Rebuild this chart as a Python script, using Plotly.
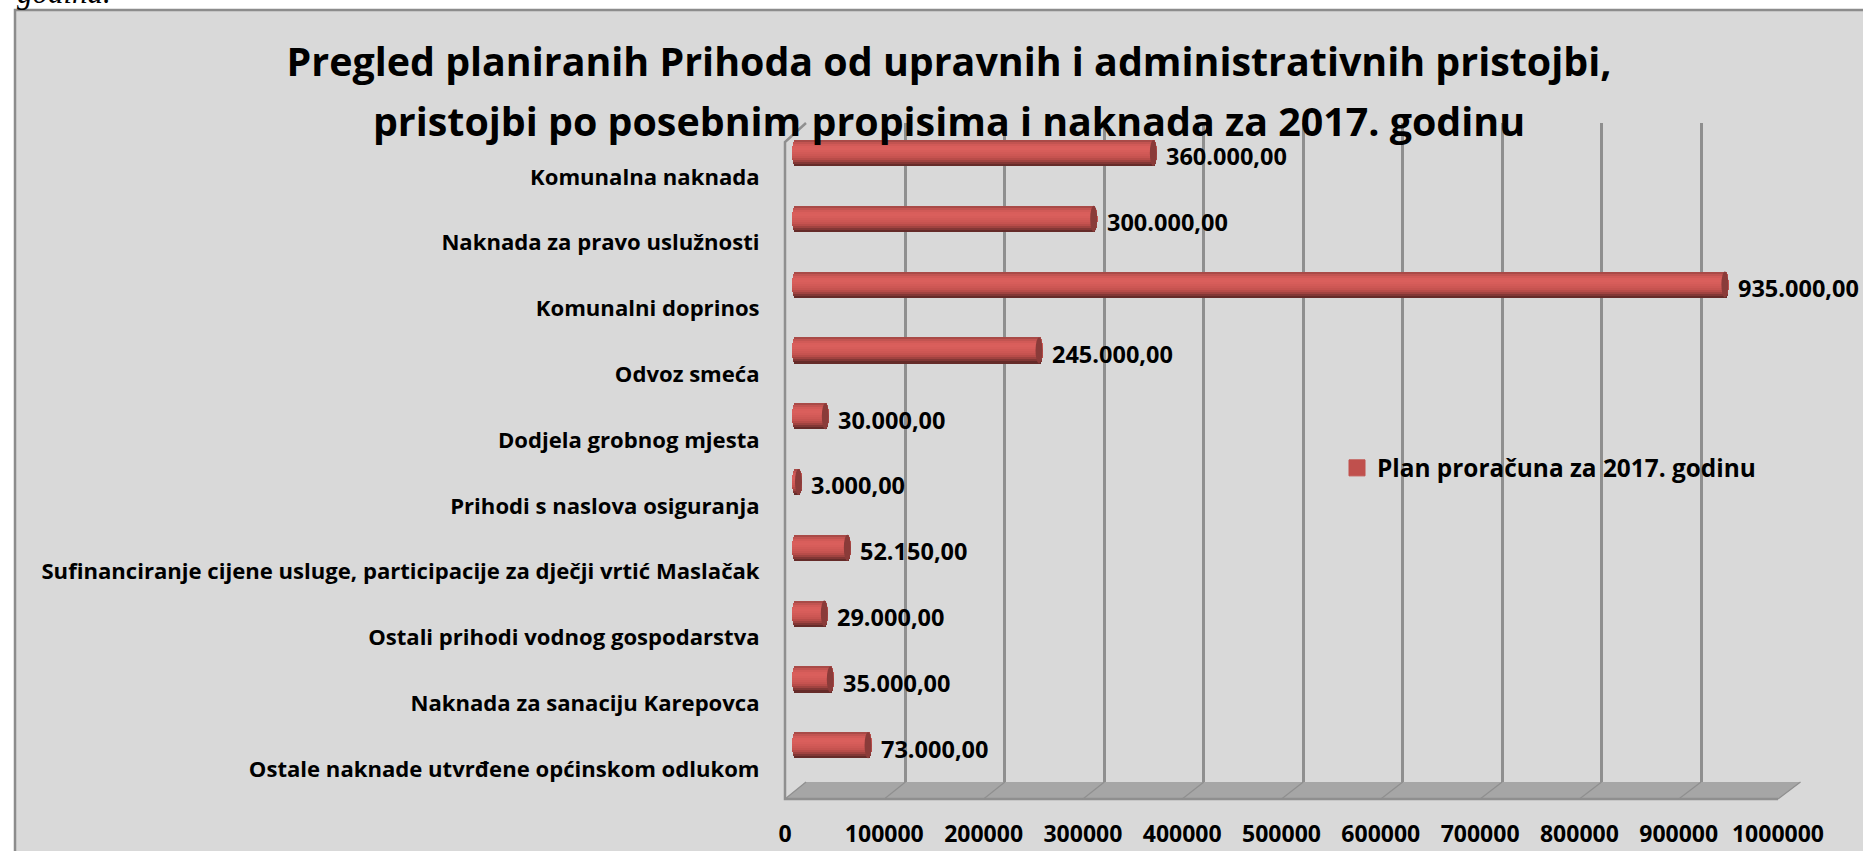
import math
import plotly.graph_objects as go

W, H = 1863, 851

categories = [
    "Komunalna naknada",
    "Naknada za pravo uslužnosti",
    "Komunalni doprinos",
    "Odvoz smeća",
    "Dodjela grobnog mjesta",
    "Prihodi s naslova osiguranja",
    "Sufinanciranje cijene usluge, participacije za dječji vrtić Maslačak",
    "Ostali prihodi vodnog gospodarstva",
    "Naknada za sanaciju Karepovca",
    "Ostale naknade utvrđene općinskom odlukom",
]
values = [360000, 300000, 935000, 245000, 30000, 3000, 52150, 29000, 35000, 73000]
value_labels = ["360.000,00", "300.000,00", "935.000,00", "245.000,00", "30.000,00",
                "3.000,00", "52.150,00", "29.000,00", "35.000,00", "73.000,00"]
tick_values = [0, 100000, 200000, 300000, 400000, 500000, 600000, 700000, 800000, 900000, 1000000]
tick_labels = ["0", "100000", "200000", "300000", "400000", "500000", "600000", "700000",
               "800000", "900000", "1000000"]
series_name = "Plan proračuna za 2017. godinu"
title_lines = ["Pregled planiranih Prihoda od upravnih i administrativnih pristojbi,",
               "pristojbi po posebnim propisima i naknada za 2017. godinu"]

FONT = "Open Sans"
GRID = "#8f8f8f"
BG = "#d9d9d9"
FLOOR = "#a6a6a6"
CAP = "#8a3b39"
LEGEND_RED = "#c0504d"
# cylinder shading, top to bottom
shades = ["#a94a47", "#c25451", "#d15a57", "#d95e5b", "#da5f5c", "#d75d5a", "#d25a57",
          "#cd5754", "#c65350", "#b84c49", "#a04340", "#823735", "#652b29"]


def px(x):
    return x / W


def py(y):
    return 1 - y / H


UNIT_PER_PX = 1e6 / 994.0
BAR_W = 0.395
n = len(shades)
step = BAR_W / n

fig = go.Figure()

# back wall (gridlines)
fig.add_trace(go.Scatter(x=values, y=categories, xaxis="x", yaxis="y", mode="markers",
                         marker=dict(opacity=0), showlegend=False, hoverinfo="skip"))

# bars, sliced lengthwise to give the cylinder its shading
for i, c in enumerate(shades):
    t = (i + 0.5) / n * 2 - 1
    round_end = math.sqrt(1 - t * t)
    fig.add_trace(go.Bar(
        orientation="h", x=[v + (3.5 + 4) * round_end * UNIT_PER_PX for v in values],
        y=categories, base=[-4 * round_end * UNIT_PER_PX] * len(values),
        offset=-BAR_W / 2 + i * step, width=step * 1.12,
        marker=dict(color=c, line=dict(width=0)),
        xaxis="x2", yaxis="y2", showlegend=False, name=series_name,
    ))

# legend entry
fig.add_trace(go.Scatter(x=[None], y=[None], xaxis="x2", yaxis="y2", mode="markers", name=series_name,
                         marker=dict(symbol="square", size=16, color=LEGEND_RED,
                                     line=dict(width=1, color=LEGEND_RED))))

# axis that carries the tick and category labels (front plane of the 3D box)
fig.add_trace(go.Scatter(x=values, y=categories, xaxis="x3", yaxis="y3", mode="markers",
                         marker=dict(opacity=0), showlegend=False, hoverinfo="skip"))

shapes = [
    dict(type="rect", xref="paper", yref="paper", layer="below", x0=px(15), x1=px(W + 20), y0=py(H + 20), y1=py(10),
         fillcolor=BG, line=dict(color="#8c8c8c", width=2.5)),
    dict(type="path", xref="paper", yref="paper", layer="below",
         path=f"M{px(785)},{py(799)} L{px(806)},{py(782)} L{px(1800.5)},{py(782)} L{px(1778)},{py(799)} Z",
         fillcolor=FLOOR, line=dict(width=0)),
    dict(type="path", xref="paper", yref="paper", layer="below",
         path=f"M{px(806)},{py(123)} L{px(785)},{py(142)} L{px(785)},{py(799)} L{px(1778)},{py(799)}",
         line=dict(color=GRID, width=2.5)),
]
for tv in tick_values:
    fx = 785 + tv / 1e6 * 993
    bx = 806 + tv / 1e6 * 994.5
    shapes.append(dict(type="line", xref="paper", yref="paper", layer="below",
                       x0=px(fx), y0=py(799), x1=px(bx), y1=py(782), line=dict(color=GRID, width=1.2)))
for cat, v in zip(categories, values):
    k = categories.index(cat)
    shapes.append(dict(type="circle", xref="x2", yref="y2", layer="above",
                       x0=v - 3.5 * UNIT_PER_PX, x1=v + 3.5 * UNIT_PER_PX,
                       y0=k - BAR_W / 2, y1=k + BAR_W / 2,
                       fillcolor=CAP, line=dict(width=0)))

annotations = [
    dict(xref="paper", yref="paper", x=px(15), y=py(1), xanchor="left", yanchor="bottom",
         showarrow=False, align="left", text="<i>godina.</i>",
         font=dict(family="Liberation Serif", size=31, color="#000000"), yshift=-11),
]
for cat, v, lab in zip(categories, values, value_labels):
    annotations.append(dict(xref="x2", yref="y2", x=v, y=cat, xanchor="left", yanchor="middle",
                            xshift=11, yshift=-3.5, showarrow=False, text=lab,
                            font=dict(family=FONT, size=23.5, color="#000000", weight=700)))

no_labels = dict(showticklabels=False, ticks="", zeroline=False, showline=False, showgrid=False)
fig.update_layout(
    width=W, height=H, margin=dict(l=0, r=0, t=0, b=0, autoexpand=False), autosize=False,
    paper_bgcolor="#ffffff", plot_bgcolor="rgba(0,0,0,0)",
    barmode="overlay", shapes=shapes, annotations=annotations, bargap=0,
    title=dict(
        text="<br>".join(f'<span style="font-size:39.4px">{t}</span>' for t in title_lines),
        x=949 / W, xanchor="center", y=py(76), yanchor="top", xref="paper", yref="paper",
        font=dict(family=FONT, size=46, color="#000000", weight=700),
    ),
    legend=dict(x=px(1337), y=py(468), xanchor="left", yanchor="middle", bgcolor="rgba(0,0,0,0)",
                itemsizing="trace", itemwidth=30,
                font=dict(family=FONT, size=24.4, color="#000000", weight=700)),
    xaxis=dict(domain=[px(806), px(1800.5)], range=[0, 1e6], anchor="y", tickvals=tick_values,
               showgrid=True, gridcolor=GRID, gridwidth=2.5, showticklabels=False, ticks="", zeroline=False),
    yaxis=dict(domain=[py(782), py(123)], anchor="x", type="category", categoryorder="array",
               categoryarray=categories, range=[9.5, -0.5], **no_labels),
    xaxis2=dict(domain=[px(795.5 - 20000 / UNIT_PER_PX), px(1789.5)], range=[-20000, 1e6], anchor="y2", **no_labels),
    yaxis2=dict(domain=[py(778.1), py(120.1)], anchor="x2", type="category", categoryorder="array",
                categoryarray=categories, range=[9.5, -0.5], **no_labels),
    xaxis3=dict(domain=[px(785), px(1778)], range=[0, 1e6], anchor="y3", side="bottom",
                tickmode="array", tickvals=tick_values, ticktext=tick_labels, ticks="outside",
                ticklen=11, tickcolor="rgba(0,0,0,0)", showgrid=False, zeroline=False, showline=False,
                tickangle=0, tickfont=dict(family=FONT, size=23, color="#000000", weight=700)),
    yaxis3=dict(domain=[py(802), py(144)], anchor="x3", type="category", categoryorder="array",
                categoryarray=categories, range=[9.5, -0.5], ticks="outside", ticklen=20,
                tickcolor="rgba(0,0,0,0)", showgrid=False, zeroline=False, showline=False,
                tickfont=dict(family=FONT, size=22.1, color="#000000", weight=700)),
)

fig.write_html("out.html", config=dict(displayModeBar=False),
               post_script="document.body.style.margin='0';document.body.style.overflow='hidden';")
